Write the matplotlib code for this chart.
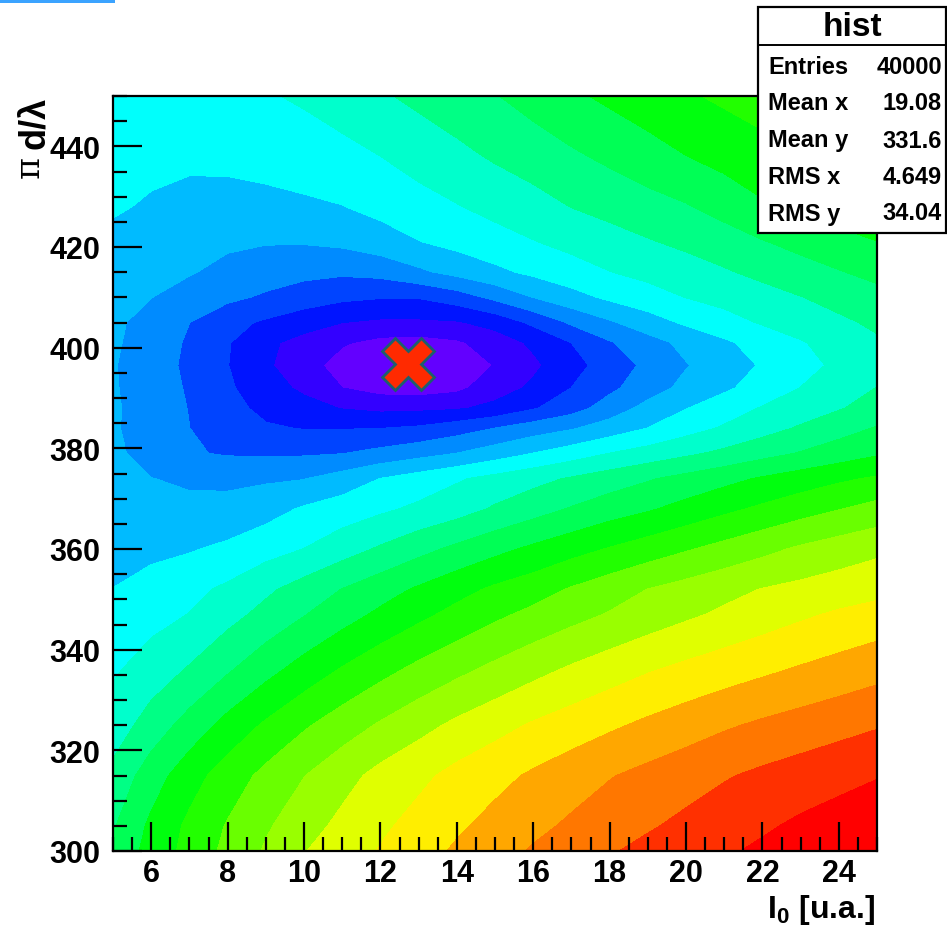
import numpy as np
import matplotlib
matplotlib.use("Agg")
import matplotlib.pyplot as plt
from matplotlib.patches import Rectangle
from matplotlib.lines import Line2D
from matplotlib.ticker import MultipleLocator

plt.rcParams['font.family'] = ['Liberation Sans', 'DejaVu Sans']
plt.rcParams['mathtext.fontset'] = 'custom'
plt.rcParams['mathtext.rm'] = 'Liberation Sans'
plt.rcParams['mathtext.bf'] = 'Liberation Sans:bold'

# ---- data ----
x_nodes = [5, 6, 7, 8, 9, 10, 11, 12, 13, 14, 15, 16, 17, 18, 19, 20, 21, 22, 23, 24, 25]
y_nodes = [300, 305, 315, 325, 336, 347, 352, 360, 368, 374, 379, 384, 388, 392,
           396.5, 401, 405, 410, 415, 421, 428, 438, 450]
z_y300 = [9.25, 10.31, 11.31, 12.22, 13.08, 13.92, 14.49, 15.03, 15.57, 16.10, 16.59, 17.06, 17.47, 17.87, 18.21, 18.51, 18.82, 19.13, 19.38, 19.63, 19.95]
z_y305 = [8.88, 10.18, 11.18, 12.05, 12.84, 13.56, 14.22, 14.78, 15.30, 15.81, 16.27, 16.71, 17.12, 17.49, 17.85, 18.18, 18.50, 18.81, 19.13, 19.38, 19.60]
z_y315 = [8.25, 9.49, 10.56, 11.44, 12.23, 12.94, 13.61, 14.26, 14.73, 15.25, 15.67, 16.10, 16.50, 16.90, 17.23, 17.55, 17.87, 18.15, 18.40, 18.65, 18.90]
z_y325 = [7.45, 8.42, 9.37, 10.31, 11.12, 11.84, 12.48, 13.08, 13.64, 14.17, 14.62, 15.07, 15.44, 15.80, 16.16, 16.49, 16.83, 17.12, 17.37, 17.62, 17.87]
z_y336 = [6.85, 7.44, 8.08, 8.86, 9.65, 10.38, 11.06, 11.66, 12.22, 12.73, 13.21, 13.67, 14.11, 14.50, 14.88, 15.20, 15.49, 15.78, 16.07, 16.34, 16.62]
z_y347 = [6.30, 6.65, 7.01, 7.64, 8.28, 8.93, 9.56, 10.17, 10.73, 11.26, 11.77, 12.22, 12.64, 13.04, 13.42, 13.79, 14.14, 14.47, 14.80, 15.10, 15.35]
z_y352 = [6.00, 6.36, 6.73, 7.16, 7.79, 8.40, 9.00, 9.56, 10.11, 10.64, 11.14, 11.53, 12.06, 12.52, 12.98, 13.33, 13.67, 14.00, 14.22, 14.44, 14.65]
z_y360 = [5.60, 5.75, 5.90, 6.20, 6.60, 7.00, 7.56, 8.11, 8.67, 9.20, 9.70, 10.17, 10.61, 11.04, 11.46, 11.88, 12.29, 12.70, 13.12, 13.45, 13.75]
z_y368 = [5.40, 5.25, 5.15, 5.22, 5.60, 6.10, 6.45, 6.80, 7.17, 7.55, 8.10, 8.57, 9.05, 9.50, 9.86, 10.30, 10.74, 11.15, 11.55, 11.93, 12.30]
z_y374 = [5.30, 5.00, 4.88, 4.82, 4.85, 4.95, 5.41, 6.00, 6.42, 6.87, 7.28, 7.68, 8.08, 8.48, 8.88, 9.28, 9.68, 10.08, 10.45, 10.80, 11.10]
z_y379 = [5.20, 4.60, 4.08, 3.90, 3.85, 3.88, 3.97, 4.29, 4.64, 5.00, 5.50, 6.00, 6.50, 7.00, 7.40, 7.80, 8.20, 8.65, 9.05, 9.45, 9.85]
z_y384 = [5.12, 4.45, 4.00, 3.40, 3.10, 2.95, 2.95, 2.98, 3.15, 3.55, 4.00, 4.50, 4.90, 5.45, 6.00, 6.60, 7.10, 7.60, 8.10, 8.60, 9.05]
z_y388 = [5.10, 4.60, 3.95, 3.30, 2.75, 2.35, 1.95, 1.75, 1.78, 1.88, 2.25, 2.90, 3.57, 4.45, 5.30, 5.95, 6.50, 7.05, 7.45, 7.90, 8.40]
z_y392 = [5.07, 4.55, 3.87, 3.14, 2.42, 1.80, 1.00, 0.60, 0.50, 0.75, 1.55, 2.17, 3.00, 3.77, 4.55, 5.25, 5.82, 6.40, 7.00, 7.50, 8.00]
z_y396 = [5.05, 4.50, 3.77, 3.02, 2.15, 1.38, 0.60, 0.10, 0.00, 0.35, 1.04, 1.80, 2.63, 3.45, 4.21, 4.93, 5.51, 6.08, 6.64, 7.18, 7.65]
z_y401 = [5.12, 4.57, 3.85, 3.07, 2.20, 1.65, 1.10, 0.70, 0.60, 0.85, 1.47, 2.17, 3.00, 3.90, 4.60, 5.25, 5.82, 6.40, 6.90, 7.40, 7.85]
z_y405 = [5.20, 4.60, 4.00, 3.30, 2.85, 2.40, 2.00, 1.82, 1.82, 1.90, 2.33, 3.20, 4.14, 4.86, 5.53, 6.14, 6.62, 7.07, 7.45, 7.80, 8.15]
z_y410 = [5.30, 5.00, 4.65, 4.20, 3.85, 3.50, 3.20, 3.05, 3.05, 3.50, 4.23, 5.00, 5.63, 6.17, 6.58, 7.00, 7.29, 7.62, 7.95, 8.30, 8.65]
z_y415 = [5.50, 5.30, 5.05, 4.75, 4.45, 4.25, 4.15, 4.30, 4.80, 5.29, 5.76, 6.19, 6.58, 6.96, 7.26, 7.56, 7.88, 8.22, 8.58, 8.92, 9.25]
z_y421 = [5.85, 5.55, 5.30, 5.13, 5.05, 5.06, 5.20, 5.55, 5.95, 6.29, 6.61, 6.94, 7.26, 7.58, 7.90, 8.19, 8.50, 8.92, 9.28, 9.62, 9.95]
z_y428 = [6.05, 5.92, 5.80, 5.75, 5.77, 5.84, 5.96, 6.27, 6.60, 6.93, 7.27, 7.60, 8.00, 8.30, 8.60, 8.90, 9.35, 9.85, 10.20, 10.50, 10.75]
z_y438 = [6.20, 6.13, 6.10, 6.14, 6.25, 6.42, 6.66, 6.98, 7.38, 7.72, 8.10, 8.45, 8.82, 9.18, 9.58, 9.96, 10.30, 10.60, 11.00, 11.30, 11.60]
z_y450 = [6.35, 6.42, 6.55, 6.71, 6.88, 7.14, 7.50, 7.86, 8.21, 8.57, 8.93, 9.36, 9.80, 10.18, 10.52, 10.85, 11.15, 11.45, 11.72, 12.00, 12.28]

palette = ['#6300ff', '#3300ff', '#0014ff', '#0044ff', '#008bff', '#00bbff', '#00fffc',
           '#00ffcc', '#00ff85', '#00ff55', '#00ff0e', '#22ff00', '#69ff00', '#99ff00',
           '#e0ff00', '#ffee00', '#ffa700', '#ff7700', '#ff3000', '#ff0000']

x_ticks = [6, 8, 10, 12, 14, 16, 18, 20, 22, 24]
y_ticks = [300, 320, 340, 360, 380, 400, 420, 440]
best_x = [12.73]
best_y = [396.8]
stat_names = ['Entries', 'Mean x', 'Mean y', 'RMS x', 'RMS y']
stat_values = ['40000', '19.08', '331.6', '4.649', '34.04']

# ---- figure ----
W, H = 947, 928
fig = plt.figure(figsize=(W / 100, H / 100), dpi=100)
fig.patch.set_facecolor('white')

ax = fig.add_axes([113 / W, 76 / H, 764 / W, 755 / H])
Z = np.array([z_y300, z_y305, z_y315, z_y325, z_y336, z_y347, z_y352, z_y360, z_y368,
              z_y374, z_y379, z_y384, z_y388, z_y392, z_y396, z_y401, z_y405, z_y410,
              z_y415, z_y421, z_y428, z_y438, z_y450])
levels = np.linspace(Z.min(), Z.max(), len(palette) + 1)
ax.contourf(x_nodes, y_nodes, Z, levels=levels, colors=palette, antialiased=False)
ax.plot(best_x, best_y, linestyle='none', marker='X', markersize=37,
        markerfacecolor='#ff2a00', markeredgecolor='#1d5f6c', markeredgewidth=2)

ax.set_xlim(5, 25)
ax.set_ylim(300, 450)
ax.set_xticks(x_ticks)
ax.set_yticks(y_ticks)
ax.xaxis.set_minor_locator(MultipleLocator(0.5))
ax.yaxis.set_minor_locator(MultipleLocator(5))
ax.tick_params(which='major', direction='in', length=21, width=1.6, labelsize=22,
               top=False, right=False)
ax.tick_params(which='minor', direction='in', length=10, width=1.6, top=False, right=False)
ax.tick_params(axis='x', pad=5)
ax.tick_params(axis='y', pad=9)
for lab in ax.get_xticklabels() + ax.get_yticklabels():
    lab.set_fontweight('bold')
for sp in ax.spines.values():
    sp.set_linewidth(1.6)
    sp.set_zorder(5)

# axis titles
fig.text(875 / W, 1 - 918 / H, r'$\mathbf{I_{0}}$ [u.a.]', ha='right', va='baseline',
         fontsize=23, fontweight='bold')
fig.text(34 / W, 1 - 97 / H, 'd/λ', rotation=90, ha='center', va='top',
         fontsize=26, fontweight='bold')
fig.text(30 / W, 1 - 156 / H, 'π', rotation=90, ha='center', va='top',
         fontsize=24, family=['DejaVu Serif'])

# stats box
bx0, bx1, by0, by1 = 758, 946, 8, 234
fig.patches.append(Rectangle((bx0 / W, 1 - by1 / H), (bx1 - bx0) / W, (by1 - by0) / H,
                             transform=fig.transFigure, facecolor='white',
                             edgecolor='black', linewidth=1.6, zorder=10))
fig.lines.append(Line2D([bx0 / W, bx1 / W], [1 - 46 / H, 1 - 46 / H],
                        transform=fig.transFigure, color='black', linewidth=1.4, zorder=11))
fig.text((bx0 + bx1) / 2 / W, 1 - 28 / H, 'hist', ha='center', va='center',
         fontsize=24, fontweight='bold', zorder=12)
row_y = [67, 104, 141, 178, 214]
for name, val, yy in zip(stat_names, stat_values, row_y):
    fig.text(768 / W, 1 - yy / H, name, ha='left', va='center', fontsize=17,
             fontweight='bold', zorder=12)
    fig.text(942 / W, 1 - yy / H, val, ha='right', va='center', fontsize=17,
             fontweight='bold', zorder=12)

# top-left blue strip
fig.patches.append(Rectangle((0, 1 - 4 / H), 115 / W, 4 / H, transform=fig.transFigure,
                             facecolor='#3ba3ff', edgecolor='none', zorder=10))

fig.savefig('out.png', dpi=100, facecolor='white')
